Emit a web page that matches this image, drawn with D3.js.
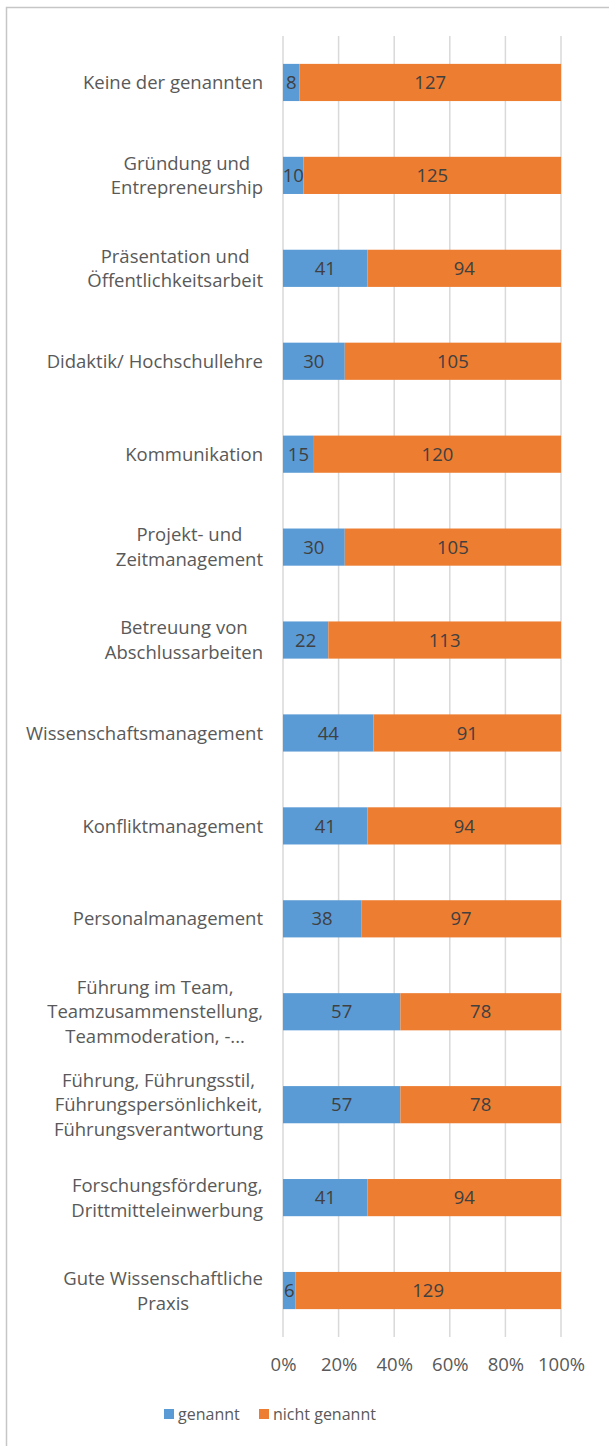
<!DOCTYPE html>
<html>
<head>
<meta charset="utf-8">
<script src="https://cdn.jsdelivr.net/npm/d3@7/dist/d3.min.js"></script>
<style>
  html, body { margin: 0; padding: 0; background: #fff; }
  svg { display: block; }
  text { font-family: "Open Sans", "Noto Sans", sans-serif; }
</style>
</head>
<body>
<svg id="chart" width="609" height="1446"></svg>
<script>
// Topics (each entry holds the label lines as they wrap)
const categories = [
  ["Keine der genannten"],
  ["Gründung und", "Entrepreneurship"],
  ["Präsentation und", "Öffentlichkeitsarbeit"],
  ["Didaktik/ Hochschullehre"],
  ["Kommunikation"],
  ["Projekt- und", "Zeitmanagement"],
  ["Betreuung von", "Abschlussarbeiten"],
  ["Wissenschaftsmanagement"],
  ["Konfliktmanagement"],
  ["Personalmanagement"],
  ["Führung im Team,", "Teamzusammenstellung,", "Teammoderation, -..."],
  ["Führung, Führungsstil,", "Führungspersönlichkeit,", "Führungsverantwortung"],
  ["Forschungsförderung,", "Drittmitteleinwerbung"],
  ["Gute Wissenschaftliche", "Praxis"]
];
const genannt      = [8, 10, 41, 30, 15, 30, 22, 44, 41, 38, 57, 57, 41, 6];
const nichtGenannt = [127, 125, 94, 105, 120, 105, 113, 91, 94, 97, 78, 78, 94, 129];
const seriesNames  = ["genannt", "nicht genannt"];
const tickValues   = [0, 0.2, 0.4, 0.6, 0.8, 1.0];

const colors = ["#5B9BD5", "#ED7D31"];
const fontSize = 18.5;
const svg = d3.select("#chart");

// outer chart frame
svg.append("rect")
  .attr("x", 6.5).attr("y", 7.5)
  .attr("width", 640).attr("height", 1460)
  .attr("fill", "#fff").attr("stroke", "#c6c6c6").attr("stroke-width", 1.5);

const plot = { left: 283, right: 561, top: 36, bottom: 1337 };

const x = d3.scaleLinear().domain([0, 1]).range([plot.left, plot.right]);
const y = d3.scaleBand()
  .domain(d3.range(categories.length))
  .range([plot.top, plot.bottom])
  .paddingInner(0.6).paddingOuter(0.3);

// vertical gridlines
svg.append("g")
  .selectAll("line")
  .data(tickValues)
  .join("line")
  .attr("x1", d => x(d)).attr("x2", d => x(d))
  .attr("y1", plot.top).attr("y2", plot.bottom)
  .attr("stroke", "#d9d9d9").attr("stroke-width", 1.5);

// stacked shares
const rows = categories.map((c, i) => {
  const total = genannt[i] + nichtGenannt[i];
  return { i, vals: [genannt[i], nichtGenannt[i]], total };
});

const barG = svg.append("g");
rows.forEach(r => {
  let acc = 0;
  r.vals.forEach((v, s) => {
    const x0 = x(acc / r.total);
    const x1 = x((acc + v) / r.total);
    barG.append("rect")
      .attr("x", x0).attr("y", y(r.i))
      .attr("width", x1 - x0).attr("height", y.bandwidth())
      .attr("fill", colors[s]);
    barG.append("text")
      .attr("x", (x0 + x1) / 2)
      .attr("y", y(r.i) + y.bandwidth() / 2)
      .attr("dy", "0.36em")
      .attr("text-anchor", "middle")
      .attr("font-size", fontSize)
      .attr("fill", "#404040")
      .text(v);
    acc += v;
  });
});

// category labels: block right-aligned, lines centered within the block
const labelG = svg.append("g");
const lineH = 24.7;
categories.forEach((lines, i) => {
  const cy = y(i) + y.bandwidth() / 2;
  const g = labelG.append("g");
  const texts = lines.map((ln, k) =>
    g.append("text")
      .attr("y", cy + (k - (lines.length - 1) / 2) * lineH)
      .attr("dy", "0.36em")
      .attr("text-anchor", "middle")
      .attr("font-size", fontSize)
      .attr("fill", "#595959")
      .text(ln)
  );
  const w = d3.max(texts, t => t.node().getComputedTextLength());
  texts.forEach(t => t.attr("x", 263 - w / 2));
});

// x axis tick labels
const axis = d3.axisBottom(x).tickValues(tickValues).tickFormat(d3.format(".0%")).tickSize(0).tickPadding(0);
const ax = svg.append("g").attr("transform", `translate(0, 1364)`).call(axis);
ax.select(".domain").remove();
ax.selectAll("text")
  .attr("dy", "0.36em")
  .attr("font-size", fontSize)
  .attr("fill", "#595959")
  .style("font-family", "'Open Sans', 'Noto Sans', sans-serif");

// legend
const legend = svg.append("g");
const legendItems = [{ x: 164, tx: 178 }, { x: 259, tx: 273 }];
seriesNames.forEach((name, s) => {
  legend.append("rect")
    .attr("x", legendItems[s].x).attr("y", 1409)
    .attr("width", 10).attr("height", 10)
    .attr("fill", colors[s]);
  legend.append("text")
    .attr("x", legendItems[s].tx).attr("y", 1414)
    .attr("dy", "0.36em")
    .attr("font-size", 16)
    .attr("fill", "#595959")
    .text(name);
});
</script>
</body>
</html>
